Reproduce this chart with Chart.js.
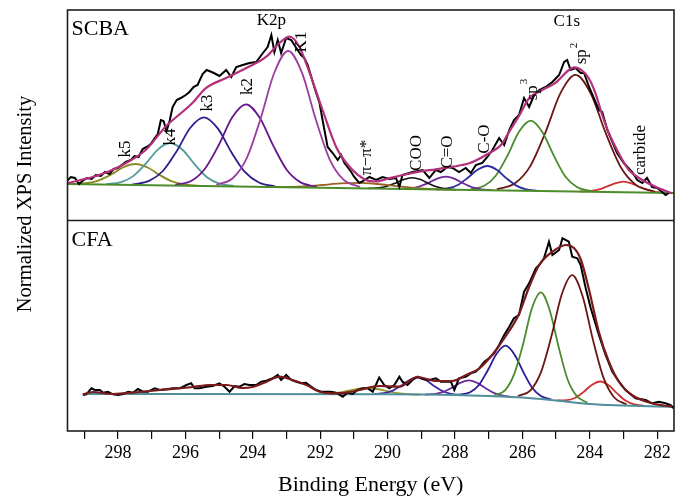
<!DOCTYPE html>
<html><head><meta charset="utf-8">
<script src="https://cdn.jsdelivr.net/npm/chart.js@4.4.1/dist/chart.umd.min.js"></script>
<style>html,body{margin:0;padding:0;background:#fff;}#wrap{width:683px;height:496px;}</style>
</head><body><div id="wrap"><canvas id="c" width="683" height="496"></canvas></div>
<script>
// ---------- axis ticks ----------
const xTicks = [282,283,284,285,286,287,288,289,290,291,292,293,294,295,296,297,298,299];
const xTickLabels = xTicks.map(v => (v % 2 === 0 ? String(v) : ''));

// ---------- SCBA (top panel) : [binding energy eV, intensity] ----------
const scbaData = [[299.52,40],[299.40,44],[299.28,43],[299.16,37],[299.05,40],[298.93,43],[298.78,42],[298.66,46],[298.51,45],[298.39,49],[298.25,47],[298.13,52],[298.01,53],[297.89,56],[297.77,59],[297.62,61],[297.51,65],[297.39,64],[297.27,72],[297.15,74],[297.03,77],[296.91,83],[296.82,87],[296.73,101],[296.65,100],[296.56,90],[296.47,100],[296.38,114],[296.26,121],[296.14,123],[295.99,126],[295.88,129],[295.76,134],[295.64,136],[295.49,147],[295.37,151],[295.22,149],[295.10,147],[294.99,145],[294.79,151],[294.64,144],[294.49,154],[294.30,156],[294.10,158],[293.90,159],[293.70,168],[293.56,174],[293.45,186],[293.36,169],[293.26,181],[293.16,168],[293.01,183],[292.86,181],[292.71,173],[292.57,166],[292.47,163],[292.37,156],[292.22,139],[292.12,128],[292.02,118],[291.93,101],[291.78,74],[291.63,68],[291.48,61],[291.38,66],[291.28,58],[291.19,54],[291.08,49],[290.99,44],[290.84,38],[290.72,40],[290.54,44],[290.34,41],[290.15,44],[289.95,42],[289.75,43],[289.65,34],[289.56,46],[289.26,49],[288.96,51],[288.76,43],[288.57,51],[288.42,49],[288.22,54],[288.07,53],[287.88,49],[287.68,53],[287.53,48],[287.38,56],[287.19,58],[287.04,64],[286.89,71],[286.69,83],[286.54,76],[286.39,91],[286.25,101],[286.10,106],[285.95,123],[285.80,114],[285.65,126],[285.50,131],[285.31,134],[285.11,139],[284.91,146],[284.76,159],[284.67,161],[284.57,151],[284.42,153],[284.27,148],[284.17,148],[284.02,134],[283.83,119],[283.73,111],[283.63,109],[283.48,91],[283.38,83],[283.19,68],[282.99,58],[282.74,49],[282.59,41],[282.44,38],[282.30,43],[282.15,34],[282.00,33],[281.85,29],[281.75,26],[281.65,28]];
const scbaFit = [[299.52,37.7],[298.56,46],[297.97,54.3],[297.18,71],[296.59,94.3],[295.80,117.7],[295.40,132.7],[294.81,142.7],[294.19,153],[293.60,164.3],[293.21,178],[292.91,184.3],[292.62,174.3],[292.38,154.3],[291.93,111],[291.53,74.3],[291.13,54.3],[290.64,41],[290.35,39.5],[289.96,42.7],[289.55,46],[289.06,49.3],[288.57,51.7],[288.07,54.3],[287.58,57.7],[287.08,66],[286.59,77.7],[286.45,86],[286.10,105],[285.80,122.7],[285.41,131],[285.01,138.3],[284.62,151],[284.47,153.7],[284.27,151.7],[284.03,142.7],[283.83,127.7],[283.63,106],[283.43,87.7],[283.14,67.7],[282.84,51],[282.44,41],[282.05,34.3],[281.56,27.7]];
const scbaBase = [[299.5,37],[281.5,28]];
const k5 = [[299.33,37.1],[298.90,38.0],[298.55,40.9],[298.19,46.8],[297.84,53.9],[297.48,57.0],[297.12,53.5],[296.77,46.1],[296.42,39.9],[296.06,36.6],[295.63,35.3]];
const k4 = [[298.35,36.8],[297.91,38.9],[297.55,44.9],[297.18,57.1],[296.82,71.4],[296.45,78.0],[296.08,71.0],[295.72,56.4],[295.36,43.8],[294.99,37.4],[294.55,34.9]];
const k3 = [[297.57,36.6],[297.08,40.1],[296.67,50.0],[296.26,69.8],[295.86,93.0],[295.45,103.7],[295.04,92.6],[294.64,69.0],[294.23,48.8],[293.82,38.5],[293.33,34.5]];
const k2 = [[296.30,36.2],[295.82,40.3],[295.42,52.3],[295.01,76.0],[294.61,103.8],[294.20,116.7],[293.80,103.4],[293.39,75.1],[292.99,51.0],[292.58,38.6],[292.10,34.1]];
const k1 = [[295.08,36.1],[294.59,43.0],[294.18,62.9],[293.77,102.3],[293.36,148.5],[292.95,170.0],[292.54,148.1],[292.13,101.5],[291.72,61.7],[291.31,41.4],[290.82,33.9]];
const pipi = [[293.71,34.2],[293.05,34.1],[292.50,34.7],[291.95,36.0],[291.40,37.6],[290.85,38.2],[290.30,37.0],[289.75,34.9],[289.20,33.1],[288.65,31.9],[287.99,31.3]];
const coo = [[290.57,32.6],[290.27,33.1],[290.02,34.7],[289.77,37.8],[289.52,41.6],[289.27,43.3],[289.02,41.4],[288.77,37.3],[288.52,33.9],[288.27,32.1],[287.97,31.3]];
const cdo = [[289.64,32.2],[289.32,32.7],[289.06,34.5],[288.79,38.1],[288.53,42.4],[288.27,44.3],[288.01,42.2],[287.75,37.6],[287.48,33.7],[287.22,31.7],[286.91,30.8]];
const cso = [[288.54,31.7],[288.19,32.8],[287.90,36.3],[287.62,43.2],[287.33,51.3],[287.04,55.0],[286.75,51.0],[286.47,42.6],[286.18,35.4],[285.89,31.7],[285.55,30.2]];
const sp3 = [[287.54,31.7],[287.13,35.2],[286.79,45.3],[286.44,65.6],[286.10,89.3],[285.75,100.3],[285.41,89.0],[285.06,64.9],[284.72,44.3],[284.37,33.8],[283.96,29.9]];
const sp2 = [[286.76,31.7],[286.22,37.7],[285.77,54.6],[285.32,88.2],[284.87,127.8],[284.42,146.1],[283.97,127.3],[283.52,87.3],[283.07,53.3],[282.62,35.9],[282.08,29.4]];
const carbide = [[284.30,29.5],[284.00,29.9],[283.75,31.3],[283.50,34.3],[283.25,37.7],[283.00,39.3],[282.75,37.4],[282.50,33.8],[282.25,30.6],[282.00,28.9],[281.70,28.2]];

// ---------- CFA (bottom panel) ----------
const cfaData = [[299.04,36],[298.94,36.7],[298.79,42.7],[298.69,41],[298.54,41],[298.44,38.3],[298.30,39.3],[298.15,36.7],[298.00,36],[297.85,37],[297.70,39.3],[297.56,38.3],[297.41,42],[297.26,39.3],[297.11,39.3],[296.91,42.7],[296.76,41],[296.57,41.7],[296.37,42.7],[296.17,42.7],[295.97,46],[295.83,47.7],[295.73,42.7],[295.58,42.7],[295.38,44.3],[295.19,45],[294.99,47.7],[294.84,44.3],[294.69,39.3],[294.54,45],[294.39,44.3],[294.25,47],[294.10,46],[293.90,46],[293.75,49.3],[293.60,50.3],[293.41,52.7],[293.26,56],[293.16,51],[293.01,56],[292.86,51],[292.71,49.3],[292.57,47.7],[292.42,48.3],[292.27,44.3],[292.12,41],[291.97,39.3],[291.83,39.3],[291.68,39.3],[291.53,38.3],[291.33,34.3],[291.19,38.3],[291.04,37],[290.89,41],[290.74,42.7],[290.59,42.7],[290.44,39.3],[290.25,53.5],[290.10,46],[289.95,42.7],[289.80,46],[289.65,54.3],[289.56,49.3],[289.41,46],[289.26,51],[289.11,54.3],[288.96,52],[288.76,51],[288.57,52.7],[288.42,49.3],[288.27,49.3],[288.12,49.3],[288.02,41],[287.88,52.7],[287.68,54.3],[287.53,57.7],[287.38,59.3],[287.28,62.7],[287.13,69.3],[286.99,72.7],[286.84,77.7],[286.69,86],[286.54,96],[286.39,104.3],[286.25,112.7],[286.10,116],[285.95,139.3],[285.80,147.7],[285.60,162.7],[285.50,166],[285.36,172.7],[285.21,189.3],[285.11,176],[284.91,181],[284.81,192.7],[284.62,189.3],[284.52,174.3],[284.37,172.7],[284.27,166],[284.12,142.7],[283.97,122.7],[283.73,96],[283.53,76],[283.33,59.3],[283.13,49.3],[282.94,41],[282.64,32.7],[282.34,31],[282.15,27.7],[281.95,29.3],[281.75,27.7],[281.60,26],[281.51,22.7]];
const cfaFit = [[299.05,36.5],[298.75,39],[298.16,37],[297.74,38],[296.76,41],[295.79,44],[295.28,46],[294.78,46],[294.31,43],[294.01,44],[293.59,49.3],[293.21,54.3],[292.82,51],[292.41,46],[292.02,39.3],[291.64,37.7],[291.22,38.3],[290.84,41],[290.25,45],[289.65,44.3],[289.12,54],[288.56,50],[288.08,50],[287.67,56],[287.28,62.5],[286.90,76],[286.49,95],[286.10,117],[285.80,144],[285.50,166],[285.12,179],[284.71,186],[284.47,183],[284.26,171],[284.02,141],[283.73,99],[283.43,69],[283.13,49],[282.75,36],[282.16,27.7],[281.56,24.3]];
const cfaBase = [[298.9,37],[290,36.7],[288,36],[287,35],[286,33.5],[285,30.5],[284,27],[283,25.5],[282,24.5],[281.5,24.3]];
const cOlive = [[292.16,36.9],[291.80,37.2],[291.50,38.1],[291.20,40.0],[290.90,42.1],[290.60,43.0],[290.30,42.0],[290.00,39.8],[289.70,37.8],[289.40,36.8],[289.04,36.4]];
const cNavy = [[290.41,36.9],[290.11,37.8],[289.86,40.2],[289.61,45.1],[289.36,50.8],[289.11,53.5],[288.86,50.7],[288.61,44.8],[288.36,39.8],[288.11,37.2],[287.81,36.0]];
const cPurple = [[288.88,36.5],[288.58,37.2],[288.33,39.3],[288.08,43.5],[287.83,48.4],[287.58,50.6],[287.33,47.9],[287.08,42.6],[286.83,37.9],[286.58,35.3],[286.28,34.0]];
const cBlue = [[287.87,36.4],[287.55,38.8],[287.29,46.0],[287.03,60.5],[286.76,77.5],[286.50,85.3],[286.24,76.8],[285.97,58.9],[285.71,43.3],[285.45,35.1],[285.14,31.4]];
const cGreen = [[286.83,35.7],[286.51,40.9],[286.25,56.3],[285.98,86.8],[285.72,122.4],[285.45,138.6],[285.19,120.8],[284.92,83.6],[284.66,51.7],[284.39,35.1],[284.07,28.2]];
const cSp2 = [[286.13,34.9],[285.76,40.7],[285.45,58.6],[285.14,94.4],[284.83,136.7],[284.52,155.8],[284.21,134.5],[283.90,90.4],[283.59,53.1],[283.28,33.8],[282.91,26.6]];
const cRed = [[284.98,30.6],[284.68,30.8],[284.43,33.3],[284.18,39.1],[283.93,46.3],[283.68,49.5],[283.43,45.4],[283.18,37.3],[282.93,30.2],[282.68,26.6],[282.38,25.1]];

// ---------- annotations (anchored in data coordinates of the SCBA panel) ----------
const scbaNotes = [
  {t:'K2p', e:293.45, v:200, rot:false},
  {t:'C1s', e:284.68, v:199.5, rot:false},
  {t:'K1', e:292.56, v:179, rot:true},
  {t:'k2', e:294.17, v:134.5, rot:true},
  {t:'k3', e:295.35, v:118, rot:true},
  {t:'k4', e:296.44, v:84, rot:true},
  {t:'k5', e:297.77, v:72, rot:true},
  {t:'π−π*', e:290.62, v:63.5, rot:true},
  {t:'COO', e:289.13, v:68, rot:true},
  {t:'C=O', e:288.23, v:69, rot:true},
  {t:'C-O', e:287.12, v:82, rot:true},
  {t:'sp', sup:'3', e:285.71, v:131, rot:true},
  {t:'sp', sup:'2', e:284.23, v:167, rot:true},
  {t:'carbide', e:282.48, v:71, rot:true}
];

const SERIF = '"Liberation Serif", "Times New Roman", serif';
const toXY = a => a.map(p => ({x: p[0], y: p[1]}));
function ds(data, color, width, axis, smooth) {
  return {data: toXY(data), borderColor: color, backgroundColor: color, borderWidth: width,
    yAxisID: axis, pointRadius: 0, fill: false, tension: 0,
    cubicInterpolationMode: smooth ? 'monotone' : 'default'};
}

const datasets = [
  // top panel (first = drawn on top)
  ds(scbaFit, '#b3307c', 2.2, 'yT', true),
  ds(scbaData, '#000000', 2, 'yT', false),
  ds(scbaBase, '#4c8c2a', 2, 'yT', false),
  ds(k1, '#9b3d9f', 1.8, 'yT', true),
  ds(k2, '#67158b', 1.8, 'yT', true),
  ds(k3, '#2e1d8d', 1.8, 'yT', true),
  ds(k4, '#539b9b', 1.8, 'yT', true),
  ds(k5, '#8d8b1f', 1.8, 'yT', true),
  ds(pipi, '#9a6222', 1.8, 'yT', true),
  ds(coo, '#111111', 1.6, 'yT', true),
  ds(cdo, '#6b2a9b', 1.8, 'yT', true),
  ds(cso, '#2b2aa1', 1.8, 'yT', true),
  ds(sp3, '#4b8b2b', 1.8, 'yT', true),
  ds(sp2, '#6b1515', 1.8, 'yT', true),
  ds(carbide, '#d03232', 1.8, 'yT', true),
  // bottom panel
  ds(cfaFit, '#7a1a1a', 2.2, 'yB', true),
  ds(cfaData, '#000000', 2, 'yB', false),
  ds(cfaBase, '#4f8f9c', 2, 'yB', true),
  ds(cSp2, '#6b1515', 1.8, 'yB', true),
  ds(cGreen, '#4b8b2b', 1.8, 'yB', true),
  ds(cBlue, '#2b1b9b', 1.8, 'yB', true),
  ds(cPurple, '#6b2a9b', 1.8, 'yB', true),
  ds(cNavy, '#3b2ba1', 1.8, 'yB', true),
  ds(cOlive, '#9a9a2a', 1.8, 'yB', true),
  ds(cRed, '#d03232', 1.8, 'yB', true)
];

const framePlugin = {
  id: 'frame',
  afterDraw(chart) {
    const {ctx, chartArea: a, scales} = chart;
    const x = scales.x, yT = scales.yT, yB = scales.yB;
    ctx.save();
    ctx.strokeStyle = '#1e1e1e';
    ctx.lineWidth = 1.6;
    ctx.strokeRect(a.left, a.top, a.right - a.left, a.bottom - a.top);
    ctx.beginPath();
    ctx.moveTo(a.left, yB.top); ctx.lineTo(a.right, yB.top);
    ctx.stroke();

    ctx.fillStyle = '#000';
    ctx.textAlign = 'left';
    ctx.textBaseline = 'alphabetic';
    ctx.font = '22px ' + SERIF;
    ctx.fillText('SCBA', a.left + 4, yT.top + 25);
    ctx.fillText('CFA', a.left + 4, yB.top + 25);

    // y-axis title
    ctx.save();
    ctx.translate(26, a.top + 194);
    ctx.rotate(-Math.PI / 2);
    ctx.textAlign = 'center';
    ctx.textBaseline = 'middle';
    ctx.font = '20.5px ' + SERIF;
    ctx.fillText('Normalized XPS Intensity', 0, 0);
    ctx.restore();

    // peak annotations
    for (const n of scbaNotes) {
      const px = x.getPixelForValue(n.e), py = yT.getPixelForValue(n.v);
      ctx.save();
      ctx.translate(px, py);
      if (n.rot) ctx.rotate(-Math.PI / 2);
      ctx.font = '17px ' + SERIF;
      ctx.textBaseline = 'middle';
      if (n.sup) {
        const w1 = ctx.measureText(n.t).width;
        ctx.font = '11px ' + SERIF;
        const w2 = ctx.measureText(n.sup).width;
        const s = -(w1 + w2) / 2;
        ctx.textAlign = 'left';
        ctx.font = '17px ' + SERIF;
        ctx.fillText(n.t, s, 0);
        ctx.font = '11px ' + SERIF;
        ctx.fillText(n.sup, s + w1 + 1, -8);
      } else {
        ctx.textAlign = 'center';
        ctx.fillText(n.t, 0, 0);
      }
      ctx.restore();
    }
    ctx.restore();
  }
};

new Chart(document.getElementById('c'), {
  type: 'line',
  data: {datasets},
  options: {
    responsive: false,
    animation: false,
    devicePixelRatio: 1,
    layout: {padding: {top: 10, right: 9, left: 0, bottom: 0}},
    plugins: {legend: {display: false}, tooltip: {enabled: false}},
    scales: {
      x: {
        type: 'linear', position: 'bottom', reverse: true, min: 281.5, max: 299.5,
        afterBuildTicks: s => { s.ticks = xTicks.map(v => ({value: v})); },
        afterFit: s => { s.height = 65; },
        ticks: {color: '#000', font: {family: SERIF, size: 18}, padding: 3, maxRotation: 0, autoSkip: false,
          callback: v => { const i = xTicks.indexOf(v); return i >= 0 ? xTickLabels[i] : ''; }},
        grid: {display: true, drawOnChartArea: false, drawTicks: true, tickLength: 8, color: '#000', lineWidth: 1.2},
        border: {display: false},
        title: {display: true, text: 'Binding Energy (eV)', color: '#000', font: {family: SERIF, size: 22, lineHeight: 1}, padding: 0}
      },
      yB: {type: 'linear', position: 'left', stack: 'panels', stackWeight: 1, min: 0, max: 210.5,
        ticks: {display: false}, grid: {display: false}, border: {display: false},
        afterFit: s => { s.width = 67.5; }},
      yT: {type: 'linear', position: 'left', stack: 'panels', stackWeight: 1, min: 0.5, max: 211,
        ticks: {display: false}, grid: {display: false}, border: {display: false},
        afterFit: s => { s.width = 67.5; }}
    }
  },
  plugins: [framePlugin]
});
</script></body></html>
